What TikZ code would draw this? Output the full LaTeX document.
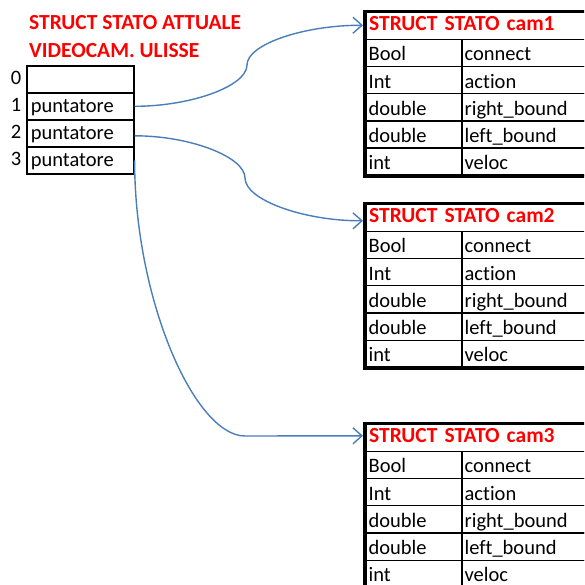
\documentclass[tikz,border=0pt]{standalone}
\usepackage{fontspec}
\setmainfont{Carlito}[Ligatures=NoCommon]
\usetikzlibrary{arrows.meta,calc}
\definecolor{conn}{HTML}{4A7EBB}
\definecolor{hdr}{HTML}{FF0000}
\begin{document}
\begin{tikzpicture}[x=1pt,y=-1pt,
  every node/.style={font=\fontsize{20.5}{24}\selectfont, inner sep=0pt},
  arr/.style={draw=conn, line width=1.4pt, -{Straight Barb[length=9pt,width=16pt,line width=1.4pt]}},
  acell/.style={draw, line width=1.6pt, minimum width=107pt, minimum height=27pt, text width=99pt, text height=16pt, text depth=3pt, align=left, inner xsep=4pt, anchor=north west},
  idx/.style={anchor=base},
  title/.style={font=\fontsize{21.5}{24}\selectfont\bfseries, text=hdr, anchor=base west},
  hcell/.style={minimum height=27.2pt, text width=218pt, text height=15pt, text depth=4pt, align=left, inner xsep=4pt, anchor=north west, font=\fontsize{21.5}{24}\selectfont\bfseries, text=hdr},
  lcell/.style={draw, line width=1.3pt, minimum width=96pt, minimum height=27.2pt, text width=91pt, text height=18pt, text depth=2pt, align=left, inner xsep=3pt, anchor=north west},
  rcell/.style={draw, line width=1.3pt, minimum width=129pt, minimum height=27.2pt, text width=123pt, text height=18pt, text depth=2pt, align=left, inner xsep=3pt, anchor=north west},
  outer/.style={draw, line width=3.6pt}
]
\useasboundingbox (0,0) rectangle (584,585);
\clip (0,0) rectangle (584,585);
\fill[white] (0,0) rectangle (584,585);

% left title
\node[title] (t1) at (29,30) {STRUCT STATO ATTUALE};
\node[title] (t2) at (29,58) {VIDEOCAM. ULISSE};

% left array
\node[acell] (p0) at (26,65) {};
\node[acell] (p1) at (26,92) {puntatore};
\node[acell] (p2) at (26,119) {puntatore};
\node[acell] (p3) at (26,146) {puntatore};
\node[idx] (i0) at (16,85) {0};
\node[idx] (i1) at (16,112) {1};
\node[idx] (i2) at (16,139) {2};
\node[idx] (i3) at (16,166) {3};

% right tables
\foreach \n/\top in {1/11.5, 2/203.5, 3/423.5}{
  \node[hcell] (h\n) at (365,\top) {STRUCT STATO cam\n};
  \node[lcell] (b\n) at (365,\top+27.2) {Bool};
  \node[rcell] (bb\n) at (461,\top+27.2) {connect};
  \node[lcell] (c\n) at (365,\top+54.4) {Int};
  \node[rcell] (cc\n) at (461,\top+54.4) {action};
  \node[lcell] (d\n) at (365,\top+81.6) {double};
  \node[rcell] (dd\n) at (461,\top+81.6) {right\_bound};
  \node[lcell] (e\n) at (365,\top+108.8) {double};
  \node[rcell] (ee\n) at (461,\top+108.8) {left\_bound};
  \node[lcell] (f\n) at (365,\top+136) {int};
  \node[rcell] (ff\n) at (461,\top+136) {veloc};
  \draw[outer] (h\n.north west) rectangle (ff\n.south east);
}

% connectors
\draw[arr] (p1.east) .. controls +(57,0) and (247,86) .. (247,65)
  .. controls (247,44) and (305,25) .. ($(h1.west)+(-2,0)$);
\draw[arr] ($(p2.east)+(0,2.5)$) .. controls +(56,0) and (245,157) .. (245,178)
  .. controls (245,200) and (304,221) .. ($(h2.west)+(-2,3.5)$);
\draw[arr] (p3.east) .. controls +(0,140) and (195,436) .. (245,436)
  -- ($(h3.west)+(-2,-1.5)$);
\end{tikzpicture}
\end{document}
